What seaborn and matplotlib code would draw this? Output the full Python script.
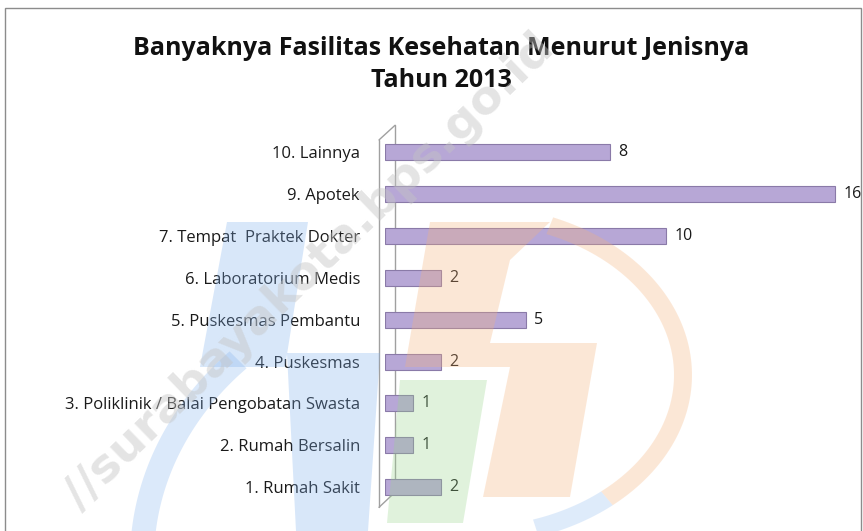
import matplotlib
matplotlib.use("Agg")
import matplotlib.pyplot as plt
import seaborn as sns
import pandas as pd
import numpy as np
from matplotlib.patches import Rectangle, Polygon

categories = [
    "10. Lainnya",
    "9. Apotek",
    "7. Tempat  Praktek Dokter",
    "6. Laboratorium Medis",
    "5. Puskesmas Pembantu",
    "4. Puskesmas",
    "3. Poliklinik / Balai Pengobatan Swasta",
    "2. Rumah Bersalin",
    "1. Rumah Sakit",
]
values = [8, 16, 10, 2, 5, 2, 1, 1, 2]
title = "Banyaknya Fasilitas Kesehatan Menurut Jenisnya\nTahun 2013"
watermark = "//surabayakota.bps.go.id"

df = pd.DataFrame({"kategori": categories, "jumlah": values})

sns.set_theme(style="white")
plt.rcParams["font.family"] = ["Open Sans", "DejaVu Sans"]

W, H = 863, 531
fig = plt.figure(figsize=(8.63, 5.31), dpi=100)
fig.patch.set_facecolor("white")


def px(x, y):
    return (x / W, 1 - y / H)


def add_poly(pts, col, alpha):
    fig.patches.append(Polygon([px(*p) for p in pts], closed=True,
                               transform=fig.transFigure, facecolor=col,
                               edgecolor="none", alpha=alpha, zorder=5))


def ring_band(cx, cy, a, b, thick, t1, t2, col, alpha):
    t = np.radians(np.linspace(t1, t2, 80))
    outer = [(cx + a * np.cos(v), cy - b * np.sin(v)) for v in t]
    inner = [(cx + (a - thick) * np.cos(v), cy - (b - thick) * np.sin(v)) for v in t[::-1]]
    add_poly(outer + inner, col, alpha)


# outer border
fig.patches.append(Rectangle((0.006, -0.01), 0.992, 0.995, transform=fig.transFigure,
                             fill=False, edgecolor="#8c8c8c", linewidth=1.0))

ax = fig.add_axes([0.446, 0.043, 0.538, 0.71])
sns.barplot(data=df, x="jumlah", y="kategori", color="#b7a7d6", width=0.38,
            edgecolor="#8a7aa8", linewidth=0.8, ax=ax, saturation=1, zorder=3)
ax.set_xlim(0, 16.5)
ax.set_ylim(8.5, -0.5)
ax.set_xlabel("")
ax.set_ylabel("")
ax.set_xticks([])
for s in ["top", "right", "bottom", "left"]:
    ax.spines[s].set_visible(False)
ax.set_facecolor("none")
ax.tick_params(axis="y", length=0, pad=18, labelsize=12, labelcolor="#1a1a1a")

for container in ax.containers:
    ax.bar_label(container, labels=[str(v) for v in values], padding=6,
                 fontsize=11.5, color="#1a1a1a")

# 3D wall look on left
wall = dict(color="#a0a0a0", lw=1.0, clip_on=False, zorder=1)
ax.plot([-0.21, -0.21], [-0.29, 8.48], **wall)
ax.plot([0.36, 0.36], [-0.64, 8.12], **wall)
ax.plot([-0.21, 0.36], [-0.29, -0.64], **wall)
ax.plot([-0.21, 0.36], [8.48, 8.12], **wall)

fig.text(0.511, 0.878, title, ha="center", va="center", fontsize=18,
         fontweight="bold", color="#111111", linespacing=1.35)

# faint logo watermark overlay
blue, green, orange = "#7fb0ee", "#9ad68d", "#f5b27a"
add_poly([(227, 222), (308, 222), (285, 367), (200, 367)], blue, 0.30)
add_poly([(287, 353), (380, 353), (368, 531), (296, 531)], blue, 0.30)
add_poly([(400, 380), (487, 380), (463, 523), (387, 523)], green, 0.30)
add_poly([(430, 222), (550, 222), (510, 260), (490, 343), (597, 343), (570, 497),
          (483, 497), (510, 367), (405, 367)], orange, 0.30)
ring_band(470, 375, 222, 170, 18, -50, 68, orange, 0.30)
ring_band(470, 375, 222, 170, 18, -72, -50, blue, 0.25)
ring_band(470, 560, 340, 295, 24, 135, 185, blue, 0.28)

fig.text(310 / W, 1 - 272 / H, watermark, rotation=44, fontsize=34,
         color="#c4c4c4", alpha=0.45, ha="center", va="center",
         fontweight="bold", family="DejaVu Sans", zorder=6)

fig.savefig("out.png", dpi=100)
